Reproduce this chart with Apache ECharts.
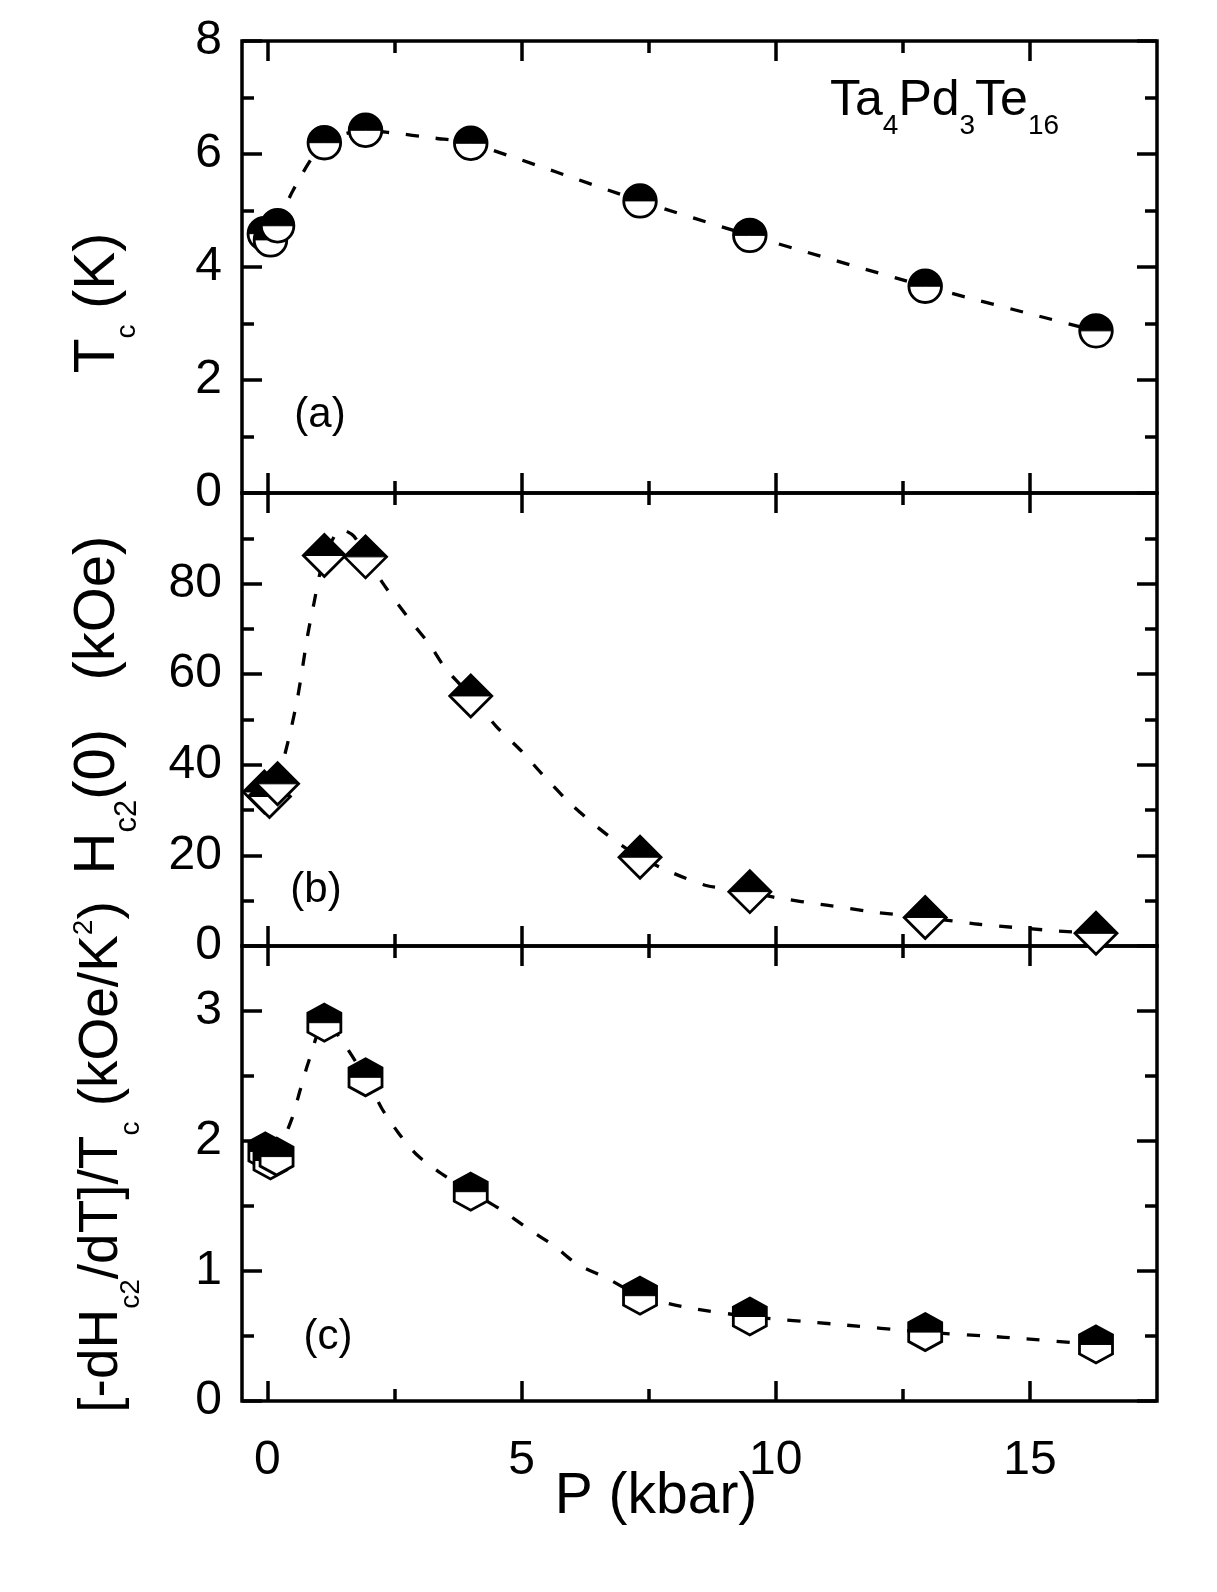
<!DOCTYPE html>
<html style="height: 100%">

<head>
    <meta charset="utf-8">
</head>

<body style="height: 100%; margin: 0">

    <div id="container" style="width: 1217px; height: 1592px"></div>

    <script type="text/javascript" src="https://cdn.jsdelivr.net/npm/echarts@6/dist/echarts.min.js"></script>

    <script type="text/javascript">
        // panel (a): Tc vs P
        var pA = [-0.06, 0.06, 0.2, 1.12, 1.93, 4.0, 7.33, 9.49, 12.94, 16.3];
        var tcA = [4.59, 4.48, 4.73, 6.2, 6.42, 6.19, 5.17, 4.56, 3.66, 2.87];
        var guideA_P = [0.2, 0.5, 1.12, 1.93, 2.4, 3.3, 4.0, 7.33, 9.49, 12.94, 16.3];
        var guideA = [4.73, 5.35, 6.2, 6.42, 6.38, 6.28, 6.19, 5.17, 4.56, 3.66, 2.87];

        // panel (b): Hc2(0) vs P
        var pB = [-0.06, 0.04, 0.2, 1.12, 1.93, 4.0, 7.33, 9.49, 12.94, 16.3];
        var hc2B = [34.0, 33.0, 35.8, 86.2, 85.9, 55.2, 19.6, 12.0, 6.3, 2.8];
        var guideB_P = [0.2, 0.44, 0.6, 0.79, 0.9, 1.1, 1.45, 1.7, 1.93, 2.3, 2.8, 3.2, 3.5, 4.0, 4.5, 5.0, 5.4, 6.0, 6.7, 7.33, 8.0, 8.65, 9.49, 10.0, 11.0, 12.0, 12.94, 14.0, 15.57, 16.3];
        var guideB = [36, 46.7, 55.2, 68.5, 74.8, 85, 92, 90.5, 86, 79.6, 72, 66.4, 61.3, 55.2, 48.5, 43, 38, 31, 24.4, 19.6, 16, 13.3, 12, 10.7, 9, 7.4, 6.3, 4.8, 3.3, 2.8];

        // panel (c): [-dHc2/dT]/Tc vs P
        var pC = [-0.04, 0.06, 0.18, 1.12, 1.93, 4.0, 7.33, 9.49, 12.94, 16.3];
        var slopeC = [1.92, 1.85, 1.88, 2.91, 2.49, 1.61, 0.81, 0.65, 0.53, 0.435];
        var guideC_P = [0.18, 0.48, 0.65, 0.81, 1.12, 1.93, 2.25, 2.6, 2.95, 3.42, 4.0, 4.6, 5.15, 5.65, 6.1, 6.65, 7.33, 8.25, 9.49, 11.2, 12.94, 14.5, 16.3];
        var guideC = [1.88, 2.17, 2.4, 2.61, 2.91, 2.49, 2.25, 2.05, 1.89, 1.75, 1.61, 1.47, 1.32, 1.19, 1.05, 0.95, 0.81, 0.72, 0.65, 0.59, 0.53, 0.49, 0.435];

        // ticks
        var xMajor = [0, 5, 10, 15];
        var xMinor = [2.5, 7.5, 12.5];
        var yMajor = [[0, 2, 4, 6, 8], [0, 20, 40, 60, 80, 100], [0, 1, 2, 3]];
        var yMinor = [[1, 3, 5, 7], [10, 30, 50, 70, 90], [0.5, 1.5, 2.5, 3.5]];
        var yLabels = [[0, 2, 4, 6, 8], [0, 20, 40, 60, 80], [0, 1, 2, 3]];
        var yMax = [8, 100, 3.5];

        var FONT = "'Liberation Sans', Arial, Helvetica, sans-serif";

        function pairs(xs, ys) {
            return xs.map(function (x, i) { return [x, ys[i]]; });
        }

        var grids = [
            { left: 242, right: 60, top: 41, height: 452 },
            { left: 242, right: 60, top: 493, height: 453 },
            { left: 242, right: 60, top: 946, height: 455 }
        ];
        grids.forEach(function (g) {
            g.show = true;
            g.borderColor = '#000';
            g.borderWidth = 3.5;
            g.backgroundColor = 'transparent';
        });

        var xAxes = [], yAxes = [];
        for (var gi = 0; gi < 3; gi++) {
            ['bottom', 'top'].forEach(function (pos) {
                [[xMajor, 20], [xMinor, 12]].forEach(function (t, j) {
                    xAxes.push({
                        type: 'value', gridIndex: gi, position: pos, min: -0.5, max: 17.5,
                        axisLine: { show: false, onZero: false }, splitLine: { show: false },
                        axisTick: { show: true, inside: true, length: t[1], customValues: t[0], lineStyle: { color: '#000', width: 3.5 } },
                        axisLabel: {
                            show: gi === 2 && pos === 'bottom' && j === 0, customValues: xMajor,
                            color: '#000', fontSize: 48, fontFamily: FONT, margin: 36
                        }
                    });
                });
            });
            ['left', 'right'].forEach(function (pos) {
                [[yMajor[gi], 20], [yMinor[gi], 12]].forEach(function (t, j) {
                    yAxes.push({
                        type: 'value', gridIndex: gi, position: pos, min: 0, max: yMax[gi],
                        axisLine: { show: false, onZero: false }, splitLine: { show: false },
                        axisTick: { show: true, inside: true, length: t[1], customValues: t[0], lineStyle: { color: '#000', width: 3.5 } },
                        axisLabel: {
                            show: pos === 'left' && j === 0, customValues: yLabels[gi],
                            color: '#000', fontSize: 48, fontFamily: FONT, margin: 20
                        }
                    });
                });
            });
        }

        // half filled marker: white body with black outline, upper half black
        function markerRenderer(kind) {
            return function (params, api) {
                var pt = api.coord([api.value(0), api.value(1)]);
                var cx = pt[0], cy = pt[1];
                var outline, half;
                if (kind === 'circle') {
                    var r = 16.3;
                    outline = { type: 'circle', shape: { cx: cx, cy: cy, r: r } };
                    half = { type: 'sector', shape: { cx: cx, cy: cy, r0: 0, r: r, startAngle: Math.PI, endAngle: 2 * Math.PI } };
                } else if (kind === 'diamond') {
                    var w = 21, h = 21;
                    outline = { type: 'polygon', shape: { points: [[cx, cy - h], [cx + w, cy], [cx, cy + h], [cx - w, cy]] } };
                    half = { type: 'polygon', shape: { points: [[cx - w, cy], [cx, cy - h], [cx + w, cy]] } };
                } else {
                    var hw = 16.5, hh = 18.5, k = 9.5;
                    outline = { type: 'polygon', shape: { points: [[cx, cy - hh], [cx + hw, cy - k], [cx + hw, cy + k], [cx, cy + hh], [cx - hw, cy + k], [cx - hw, cy - k]] } };
                    half = { type: 'polygon', shape: { points: [[cx - hw, cy], [cx - hw, cy - k], [cx, cy - hh], [cx + hw, cy - k], [cx + hw, cy]] } };
                }
                outline.style = { fill: '#fff', stroke: '#000', lineWidth: 2.8 };
                half.style = { fill: '#000', stroke: '#000', lineWidth: 1 };
                return { type: 'group', children: [outline, half] };
            };
        }

        function guideSeries(gi, data) {
            return {
                type: 'line', xAxisIndex: gi * 4, yAxisIndex: gi * 4, data: data,
                showSymbol: false, smooth: 0.25, silent: true, z: 2,
                lineStyle: { color: '#000', width: 3.3, type: [13, 17] }
            };
        }

        function markerSeries(gi, kind, data) {
            return {
                type: 'custom', xAxisIndex: gi * 4, yAxisIndex: gi * 4, data: data,
                renderItem: markerRenderer(kind), clip: false, silent: true, z: 3,
                encode: { x: 0, y: 1 }
            };
        }

        var series = [
            guideSeries(0, pairs(guideA_P, guideA)),
            guideSeries(1, pairs(guideB_P, guideB)),
            guideSeries(2, pairs(guideC_P, guideC)),
            markerSeries(0, 'circle', pairs(pA, tcA)),
            markerSeries(1, 'diamond', pairs(pB, hc2B)),
            markerSeries(2, 'hexagon', pairs(pC, slopeC))
        ];

        function rich(main, sub) {
            return {
                m: { fontSize: main, fontFamily: FONT, lineHeight: 70, fill: '#000' },
                s: { fontSize: sub, fontFamily: FONT, lineHeight: 70, fill: '#000', padding: [58, 0, 0, 0] },
                u: { fontSize: sub, fontFamily: FONT, lineHeight: 70, fill: '#000', padding: [0, 0, 36, 0] }
            };
        }

        function label(x, y, rot, text, r, align) {
            return {
                type: 'text', x: x, y: y, rotation: rot, silent: true,
                style: { text: text, rich: r, align: align || 'center', verticalAlign: 'middle', fill: '#000', fontFamily: FONT }
            };
        }

        var graphic = [
            label(98, 303, Math.PI / 2, '{m|T}{s|c}{m| (K)}', rich(57, 28)),
            label(98, 705, Math.PI / 2, '{m|H}{s|c2}{m|(0)   (kOe)}', rich(58, 31)),
            label(102, 1157, Math.PI / 2, '{m|[-dH}{s|c2}{m|/dT]/T}{s|c}{m| (kOe/K}{u|2}{m|)}', rich(55, 28)),
            label(656, 1497, 0, '{m|P (kbar)}', rich(57, 28)),
            label(320, 415, 0, '{m|(a)}', rich(42, 20)),
            label(316, 890, 0, '{m|(b)}', rich(42, 20)),
            label(328, 1337, 0, '{m|(c)}', rich(42, 20)),
            {
                type: 'text', x: 830, y: 101, silent: true,
                style: {
                    text: '{m|Ta}{s|4}{m|Pd}{s|3}{m|Te}{s|16}', align: 'left', verticalAlign: 'middle', fill: '#000',
                    rich: {
                        m: { fontSize: 50, fontFamily: FONT, lineHeight: 64, fill: '#000' },
                        s: { fontSize: 28, fontFamily: FONT, lineHeight: 64, fill: '#000', padding: [50, 0, 0, 0] }
                    }
                }
            }
        ];

        var dom = document.getElementById("container");
        var myChart = echarts.init(dom);
        myChart.setOption({
            animation: false,
            backgroundColor: '#fff',
            grid: grids,
            xAxis: xAxes,
            yAxis: yAxes,
            series: series,
            graphic: graphic
        });
    </script>
</body>

</html>
